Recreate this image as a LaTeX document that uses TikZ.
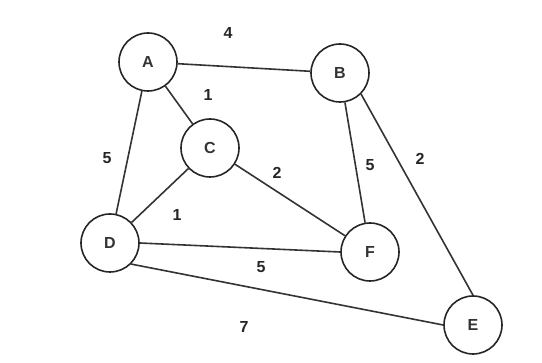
\documentclass[tikz,border=0pt]{standalone}
\usepackage{fontspec}
\setmainfont{Liberation Sans}
\usetikzlibrary{positioning}
\tikzset{
  vertex/.style={circle, draw=black!85, fill=white, line width=1.6pt, minimum size=58pt, inner sep=0pt, font=\fontsize{16}{19}\selectfont\bfseries, text=black!80},
  link/.style={line width=1.6pt, black!80},
  weight/.style={inner sep=1pt, font=\fontsize{16}{19}\selectfont\bfseries, text=black!85}
}

\begin{document}
\begin{tikzpicture}[x=1pt,y=-1pt]
  \useasboundingbox (0,0) rectangle (542,363);
  \node[vertex] (A) at (148,62) {A};
  \node[vertex] (B) at (340,73) {B};
  \node[vertex] (C) at (210,148) {C};
  \node[vertex] (D) at (110,243) {D};
  \node[vertex] (F) at (370,252) {F};
  \node[vertex] (E) at (473,325) {E};
  \draw[link] (A)--(B); \draw[link] (A)--(C); \draw[link] (A)--(D);
  \draw[link] (C)--(D); \draw[link] (C)--(F); \draw[link] (D.east)--(F.west);
  \draw[link] (D.south east)--(E.west); \draw[link] (B)--(F); \draw[link] (B.south east)--(E.north);
  \node[weight] (wab) at (228,33) {4};
  \node[weight] (wac) at (208,95) {1};
  \node[weight] (wad) at (107,158) {5};
  \node[weight] (wcf) at (277,173) {2};
  \node[weight] (wcd) at (177,215) {1};
  \node[weight] (wbf) at (370,165) {5};
  \node[weight] (wbe) at (420,159) {2};
  \node[weight] (wdf) at (261,267) {5};
  \node[weight] (wde) at (244,327) {7};
\end{tikzpicture}
\end{document}
